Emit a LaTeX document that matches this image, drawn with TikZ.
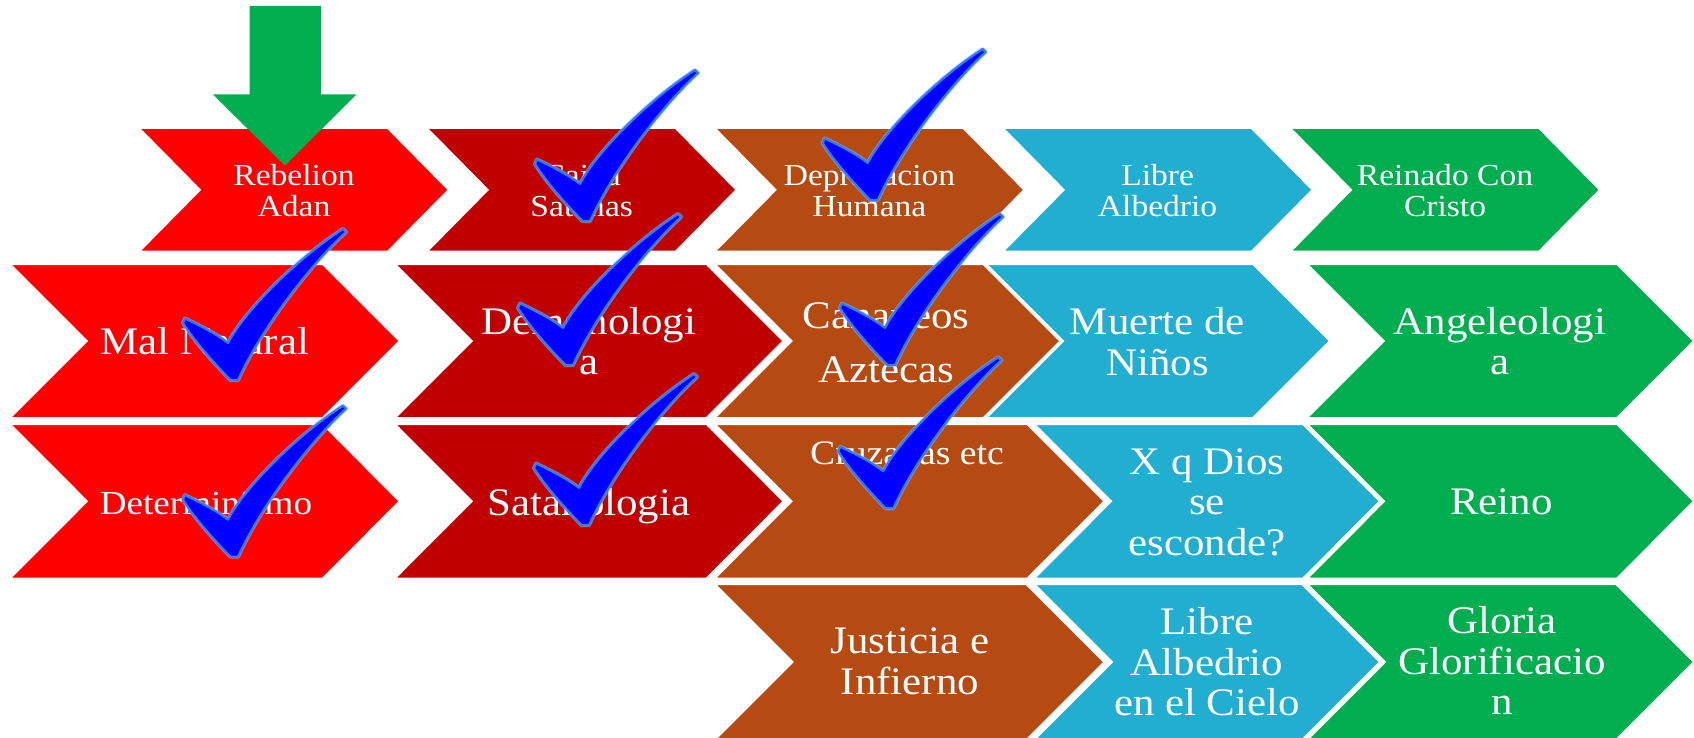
\documentclass[tikz,border=0pt]{standalone}
\usepackage{fontspec}
\newfontfamily\labfont{Liberation Serif}[FakeStretch=1.1]
\definecolor{cRed}{HTML}{FF0000}
\definecolor{cDark}{HTML}{C00000}
\definecolor{cBrown}{HTML}{B54A12}
\definecolor{cCyan}{HTML}{21AED1}
\definecolor{cGreen}{HTML}{00AE50}
\definecolor{tickBlue}{HTML}{0000FF}
\definecolor{tickRim}{HTML}{2F7DF0}
\definecolor{tickHalo}{HTML}{8DB8F0}
\newcommand\chevshape[7]{% colour, left, top, bottom, width, depth
  \path[chev, fill=#1] (#2,#3) -- ({#2+#5-#6},#3) -- ({#2+#5},{(#3+#4)/2}) -- ({#2+#5-#6},#4) -- (#2,#4) -- ({#2+#6},{(#3+#4)/2}) -- cycle;}
\newcommand\tickpath{(-2.5,0) .. controls (-20,-18) and (-38,-38) .. (-50,-57) -- (-48,-61.5) .. controls (-32,-54) and (-15,-45) .. (-5,-37) .. controls (12,-70) and (65,-122) .. (110,-151) -- (113,-148) .. controls (80,-118) and (30,-55) .. (5,0) -- cycle}
\tikzset{
  chev/.style={draw=white, line width=2pt, line join=miter},
  lbl/.style={text=white, align=center, inner sep=0pt},
  sm/.style={font=\labfont\fontsize{30.5}{30.3}\selectfont},
  lg/.style={font=\labfont\fontsize{39}{40.5}\selectfont},
  checkmk/.pic={
    \path[draw=tickHalo, line width=4pt, line join=round, opacity=0.6] \tickpath;
    \path[draw=tickRim, line width=2.2pt, line join=round, fill=tickBlue] \tickpath;
  }
}
\begin{document}
\begin{tikzpicture}[x=1pt,y=-1pt]
\useasboundingbox[fill=white] (0,0) rectangle (1694,738);
% row 1
\chevshape{cRed}{138.8}{128}{251.7}{310}{61}{}
\chevshape{cDark}{426.6}{128}{251.7}{310}{61}{}
\chevshape{cBrown}{714.4}{128}{251.7}{310}{61}{}
\chevshape{cCyan}{1002.6}{128}{251.7}{310}{61}{}
\chevshape{cGreen}{1290}{128}{251.7}{310}{61}{}
% row 2
\chevshape{cRed}{9.8}{264}{418}{390}{77}{}
\chevshape{cDark}{394.6}{264}{418}{389}{77}{}
\chevshape{cBrown}{714.4}{264}{418}{346}{77}{}
\chevshape{cCyan}{986}{264}{418}{344}{77}{}
\chevshape{cGreen}{1306.8}{264}{418}{387.2}{77}{}
% row 3
\chevshape{cRed}{9.8}{424}{578.5}{390}{77}{}
\chevshape{cDark}{394.6}{424}{578.5}{389}{77}{}
\chevshape{cBrown}{714.4}{424}{578.5}{390}{77}{}
\chevshape{cCyan}{1034}{424}{578.5}{346}{77}{}
\chevshape{cGreen}{1307}{424}{578.5}{387}{77}{}
% row 4
\chevshape{cBrown}{714.4}{584}{740}{390}{78}{}
\chevshape{cCyan}{1034}{584}{740}{346}{78}{}
\chevshape{cGreen}{1307}{584}{740}{387}{78}{}
% texts row 1
\node[lbl,sm] (t1a) at (294,194.8) {Rebelion\strut\\Adan\strut};
\node[lbl,sm] (t1b) at (581.7,194.8) {Caida\strut\\Satanas\strut};
\node[lbl,sm] (t1c) at (869.5,194.8) {Depravacion\strut\\Humana\strut};
\node[lbl,sm] (t1d) at (1157.6,194.8) {Libre\strut\\Albedrio\strut};
\node[lbl,sm] (t1e) at (1445,194.8) {Reinado Con\strut\\Cristo\strut};
% row 2
\node[lbl,lg] (t2a) at (205,346.2) {Mal Natural\strut};
\node[lbl,lg] (t2b) at (589,346.5) {Demonologi\strut\\a\strut};
\node[lbl,font=\labfont\fontsize{39}{54}\selectfont] (t2c) at (886,344.7) {Cananeos\strut\\Aztecas\strut};
\node[lbl,lg] (t2d) at (1157.5,347) {Muerte de\strut\\Niños\strut};
\node[lbl,lg] (t2e) at (1500,346.5) {Angeleologi\strut\\a\strut};
% row 3
\node[lbl,font=\labfont\fontsize{33.7}{34}\selectfont] (t3a) at (206,507.2) {Determinismo\strut};
\node[lbl,lg] (t3b) at (589,506.9) {Satanologia\strut};
\node[lbl,font=\labfont\fontsize{34.3}{35}\selectfont] (t3c) at (907,457) {Cruzadas etc\strut};
\node[lbl,lg] (t3d) at (1207,506.6) {X q Dios\strut\\se\strut\\esconde?\strut};
\node[lbl,lg] (t3e) at (1501.5,506.2) {Reino\strut};
% row 4
\node[lbl,lg] (t4a) at (910,665.8) {Justicia e\strut\\Infierno\strut};
\node[lbl,lg] (t4b) at (1207,667) {Libre\strut\\Albedrio\strut\\en el Cielo\strut};
\node[lbl,lg] (t4c) at (1502,666) {Gloria\strut\\Glorificacio\strut\\n\strut};
% green arrow
\fill[cGreen] (249.6,6) -- (321,6) -- (321,94.3) -- (356.5,94.3) -- (285,165.7) -- (212.8,94.3) -- (249.6,94.3) -- cycle;
% check marks
\pic at (585,221) {checkmk};
\pic at (872.7,200) {checkmk};
\pic at (233,380) {checkmk};
\pic at (568,365) {checkmk};
\pic at (890,365) {checkmk};
\pic at (233,556.7) {checkmk};
\pic at (584,525) {checkmk};
\pic at (888.3,508.3) {checkmk};
\end{tikzpicture}
\end{document}
